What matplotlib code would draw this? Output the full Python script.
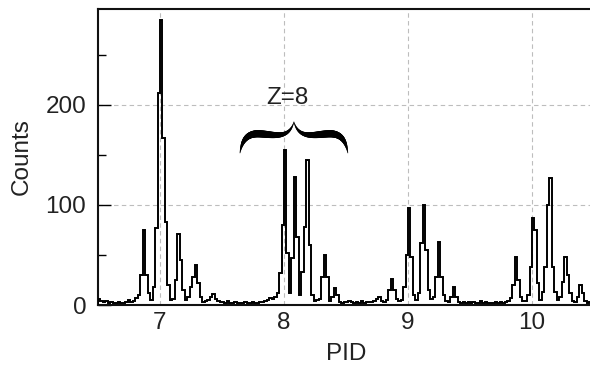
import numpy as np
import matplotlib
matplotlib.use('Agg')
import matplotlib.pyplot as plt
from matplotlib.collections import LineCollection
from matplotlib.ticker import MultipleLocator

plt.rcParams['font.family'] = ['Liberation Sans', 'DejaVu Sans']

# histogram bins (PID)
pid_lo = 6.5
bin_width = 0.02
counts = [
    6, 4, 3, 4, 2, 3, 2, 2, 3, 2,
    2, 3, 5, 3, 4, 7, 10, 30, 75, 30,
    12, 5, 18, 77, 212, 285, 167, 83, 20, 5,
    6, 25, 71, 45, 15, 5, 8, 18, 28, 40,
    22, 8, 3, 4, 5, 8, 11, 6, 4, 3,
    3, 2, 4, 2, 2, 3, 2, 2, 2, 3,
    2, 2, 3, 2, 2, 3, 3, 4, 5, 7,
    6, 8, 12, 32, 80, 155, 52, 12, 47, 128,
    68, 10, 33, 78, 145, 60, 10, 4, 5, 6,
    28, 50, 28, 4, 8, 17, 10, 3, 2, 3,
    3, 4, 3, 2, 3, 2, 4, 2, 3, 3,
    3, 4, 6, 8, 4, 3, 5, 15, 26, 15,
    6, 4, 5, 18, 50, 97, 48, 10, 5, 12,
    62, 100, 55, 15, 6, 8, 28, 63, 28, 10,
    4, 3, 8, 18, 8, 3, 2, 3, 2, 3,
    2, 3, 2, 2, 4, 2, 3, 2, 2, 2,
    3, 2, 3, 2, 3, 4, 7, 20, 48, 25,
    8, 4, 4, 10, 38, 87, 75, 22, 5, 13,
    38, 100, 127, 38, 13, 5, 8, 23, 48, 30,
    12, 4, 3, 8, 20, 12, 4, 2, 3, 2,
]
x_ticks = [7, 8, 9, 10]
y_ticks = [0, 100, 200]
label_text = 'Z=8'
label_x = 8.03
brace_span = (7.645, 8.08, 8.515)   # left end, tip, right end
brace_y = (152, 183)                # ends, tip

TXT = '#222222'
FS = 17.5


def bez(p0, p1, p2, p3, n=40):
    t = np.linspace(0, 1, n)[:, None]
    return ((1 - t)**3 * np.array(p0) + 3 * (1 - t)**2 * t * np.array(p1)
            + 3 * (1 - t) * t**2 * np.array(p2) + t**3 * np.array(p3))


def draw_brace(ax, span, yy):
    xl, xm, xr = span
    y0, y1 = yy
    half = np.vstack([bez((0, 0), (0.04, 0.42), (0.14, 0.64), (0.36, 0.62)),
                      bez((0.36, 0.62), (0.62, 0.6), (0.9, 0.42), (1.0, 1.0))[1:]])
    q = np.linspace(0, 1, len(half))
    w = 0.4 + 4.8 * np.sin(np.pi * q) ** 1.1
    for side in (xl, xr):
        xs = side + half[:, 0] * (xm - side)
        ys = y0 + half[:, 1] * (y1 - y0)
        pts = np.column_stack([xs, ys])
        segs = np.stack([pts[:-1], pts[1:]], axis=1)
        lc = LineCollection(segs, linewidths=(w[:-1] + w[1:]) / 2,
                            colors='black', capstyle='round', zorder=4)
        ax.add_collection(lc)


fig = plt.figure(figsize=(5.9, 3.69), dpi=100)
ax = fig.add_axes([98 / 590, 1 - 305 / 369, 496 / 590, 296 / 369])

edges = pid_lo + bin_width * np.arange(len(counts) + 1)
ax.stairs(counts, edges, color='black', lw=1.4, zorder=3)

ax.set_xlim(6.5, 10.5)
ax.set_ylim(0, 296)
ax.set_xticks(x_ticks)
ax.set_yticks(y_ticks)
ax.yaxis.set_minor_locator(MultipleLocator(50))
ax.tick_params(axis='x', length=0, pad=5, labelsize=FS, labelcolor=TXT)
ax.tick_params(axis='y', which='major', direction='in', length=9.5, width=1,
               pad=8.5, labelsize=FS, labelcolor=TXT)
ax.tick_params(axis='y', which='minor', direction='in', length=6, width=1)
ax.set_axisbelow(True)
ax.grid(True, which='major', color='#bdbdbd', lw=0.8, dashes=(4, 3))

for s in ax.spines.values():
    s.set_linewidth(1.5)
    s.set_color('#111111')

ax.set_xlabel('PID', fontsize=FS, color=TXT)
ax.set_ylabel('Counts', fontsize=FS, color=TXT)
ax.xaxis.set_label_coords(0.5, -0.13)
ax.yaxis.set_label_coords(-0.132, 0.5)

ax.text(label_x, 201, label_text, fontsize=FS, color=TXT, ha='center', va='baseline')
draw_brace(ax, brace_span, brace_y)

fig.savefig('out.png', dpi=100)
